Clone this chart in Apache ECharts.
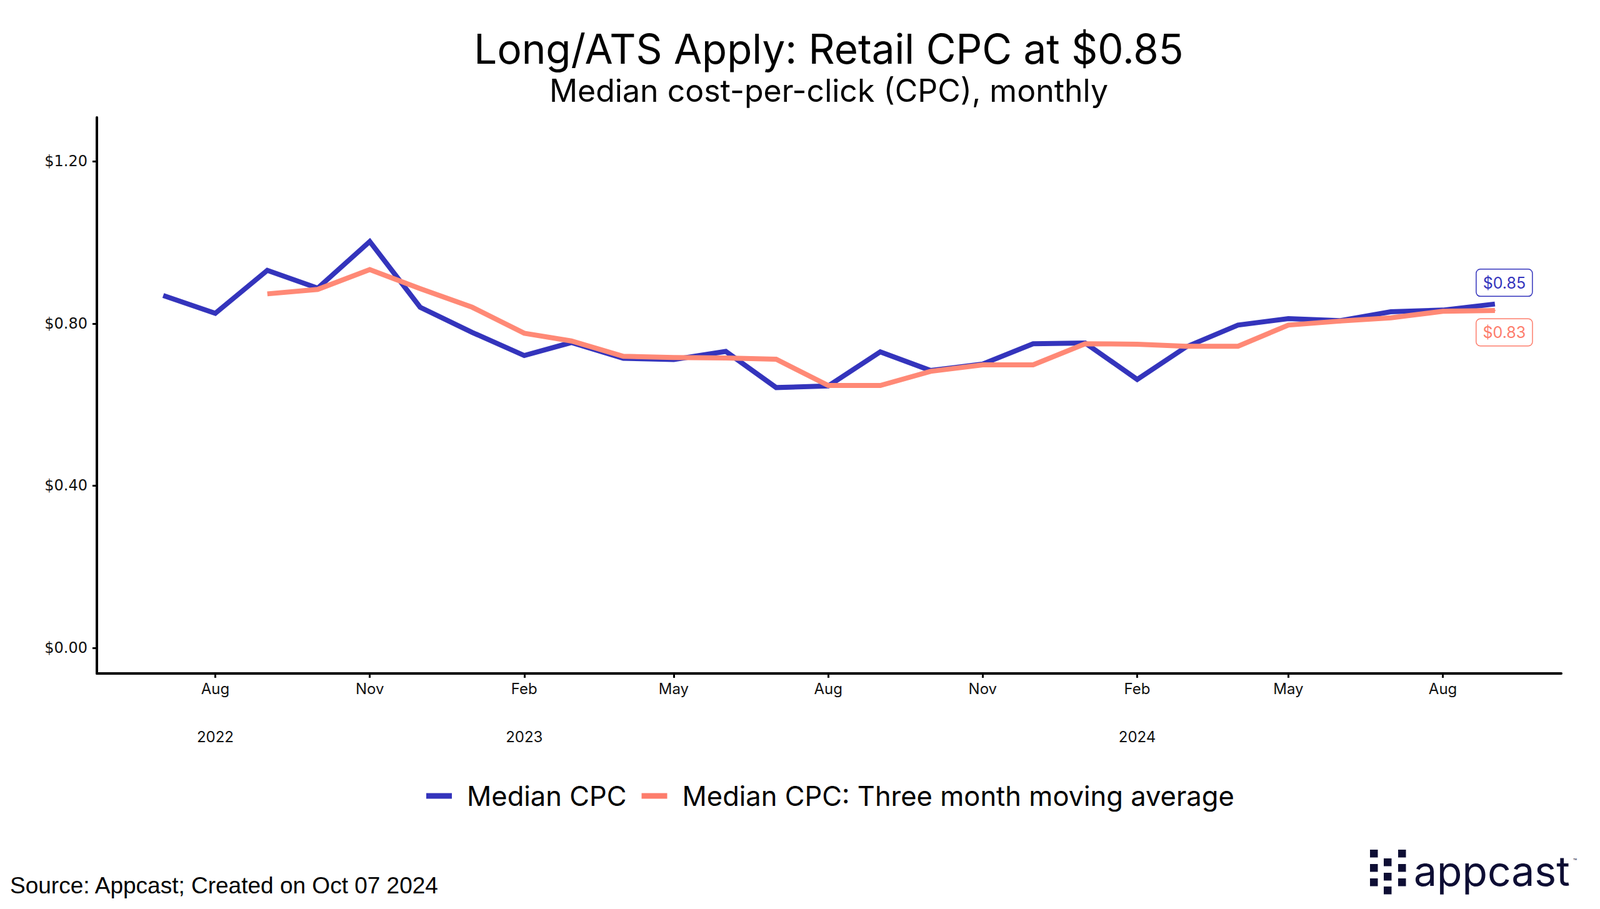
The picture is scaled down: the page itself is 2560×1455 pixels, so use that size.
<!DOCTYPE html>
<html>
<head>
<meta charset="utf-8">
<script src="https://cdn.jsdelivr.net/npm/echarts@6/dist/echarts.min.js"></script>
<style>
html,body{margin:0;padding:0;background:#fff;}
#chart{width:2560px;height:1455px;}
</style>
</head>
<body>
<div id="chart"></div>
<script>
// ---- data ----
const months = ['2022-07','2022-08','2022-09','2022-10','2022-11','2022-12',
  '2023-01','2023-02','2023-03','2023-04','2023-05','2023-06','2023-07','2023-08','2023-09','2023-10','2023-11','2023-12',
  '2024-01','2024-02','2024-03','2024-04','2024-05','2024-06','2024-07','2024-08','2024-09'];
const medianCPC = [0.869,0.825,0.931,0.887,1.002,0.840,
  0.778,0.721,0.753,0.714,0.711,0.731,0.642,0.646,0.730,0.684,0.700,0.750,
  0.752,0.662,0.742,0.796,0.812,0.807,0.829,0.833,0.848];
const movingAvg = [null,null,0.873,0.884,0.933,0.886,
  0.840,0.776,0.757,0.719,0.716,0.715,0.712,0.647,0.647,0.682,0.698,0.698,
  0.750,0.749,0.744,0.744,0.796,0.806,0.814,0.830,0.832];
const tickDates = ['2022-08','2022-11','2023-02','2023-05','2023-08','2023-11','2024-02','2024-05','2024-08'];
const tickMonthLabels = ['Aug','Nov','Feb','May','Aug','Nov','Feb','May','Aug'];
const tickYearLabels = ['2022','','2023','','','','2024','',''];
const yTicks = [0, 0.4, 0.8, 1.2];
const seriesNames = ['Median CPC','Median CPC: Three month moving average'];
const endLabels = ['$0.85','$0.83'];

const BLUE = '#3434bc', RED = '#fd7d6c', NAVY = '#0e0e34';
const FONT = 'Inter';

const DAY = 86400e3;
function ts(s, d){ const p = s.split('-'); return Date.UTC(+p[0], +p[1]-1, d||1); }
const xMin = ts('2022-05', 22) + DAY/2;
const xMax = ts('2024-10', 10) + DAY/2;
const tickTs = tickDates.map(s => ts(s));

function buildData(vals, labelText, color, pos, dist) {
  const last = vals.length - 1;
  return vals.map((v, i) => {
    const pt = [ts(months[i]), v];
    if (i === last) {
      return { value: pt, label: {
        show: true, formatter: labelText, position: pos, distance: dist, offset: [15, 0],
        color: color, fontFamily: FONT, fontSize: 25, lineHeight: 28,
        backgroundColor: '#fff', borderColor: color, borderWidth: 1.5, borderRadius: 6,
        padding: [7, 10, 7, 10]
      }};
    }
    return pt;
  });
}

const chart = echarts.init(document.getElementById('chart'), null, {renderer: 'svg'});

const logoRects = [];
[[0,0],[0,23],[0,46],[22,14],[22,37],[22,59],[45,0],[45,23],[45,46]].forEach(([dx,dy]) => {
  logoRects.push({type:'rect', shape:{x:2192+dx, y:1360+dy, width:12.5, height:12.5}, style:{fill:NAVY}});
});

chart.setOption({
  animation: false,
  backgroundColor: '#fff',
  color: [BLUE, RED],
  grid: { left: 155, right: 62, top: 188, bottom: 377, containLabel: false },
  xAxis: {
    type: 'value', min: xMin, max: xMax, scale: true,
    axisLine: { show: true, onZero: false, lineStyle: { color: '#000', width: 4 } },
    axisTick: { show: true, customValues: tickTs, length: 7, lineStyle: { color: '#000', width: 3 } },
    axisLabel: {
      customValues: tickTs, margin: 5, color: '#111', fontFamily: FONT, fontSize: 24, lineHeight: 38.5,
      formatter: function (v) {
        const i = tickTs.indexOf(v);
        if (i < 0) return '';
        return tickYearLabels[i] ? tickMonthLabels[i] + '\n\n' + tickYearLabels[i] : tickMonthLabels[i];
      }
    },
    splitLine: { show: false }
  },
  yAxis: {
    type: 'value', min: -0.063, max: 1.308,
    axisLine: { show: true, onZero: false, lineStyle: { color: '#000', width: 4 } },
    axisTick: { show: true, customValues: yTicks, length: 7, lineStyle: { color: '#000', width: 3 } },
    axisLabel: {
      customValues: yTicks, margin: 15, color: '#111', fontFamily: 'DejaVu Sans', fontSize: 24,
      formatter: v => '$' + v.toFixed(2)
    },
    splitLine: { show: false }
  },
  legend: {
    left: 677, top: 1247, icon: 'rect', itemWidth: 41, itemHeight: 9, itemGap: 24,
    textStyle: { fontFamily: FONT, fontSize: 43.5, color: '#000', padding: [0, 0, 0, 19] },
    data: seriesNames
  },
  graphic: [
    { type: 'text', x: 1326, y: 78, style: { text: 'Long/ATS Apply: Retail CPC at $0.85', fontFamily: FONT, fontSize: 65.5, fill: '#000', textAlign: 'center', textVerticalAlign: 'middle' } },
    { type: 'text', x: 1326, y: 145, style: { text: 'Median cost-per-click (CPC), monthly', fontFamily: FONT, fontSize: 50, fill: '#000', textAlign: 'center', textVerticalAlign: 'middle' } },
    { type: 'text', x: 16, y: 1417, style: { text: 'Source: Appcast; Created on Oct 07 2024', fontFamily: 'Liberation Sans', fontSize: 37, fill: '#000', textAlign: 'left', textVerticalAlign: 'middle' } },
    { type: 'group', children: logoRects.concat([
      { type: 'text', x: 2262, y: 1394, style: { text: 'appcast', fontFamily: FONT, fontSize: 66, fill: NAVY, textAlign: 'left', textVerticalAlign: 'middle' } },
      { type: 'text', x: 2517, y: 1378, style: { text: '™', fontFamily: FONT, fontSize: 10, fill: NAVY, textAlign: 'left', textVerticalAlign: 'middle' } }
    ]) }
  ],
  series: [
    { name: seriesNames[0], type: 'line', data: buildData(medianCPC, endLabels[0], BLUE, 'top', 13),
      symbol: 'circle', symbolSize: 0, showSymbol: true, lineStyle: { width: 8, color: BLUE, cap: 'butt', join: 'miter' },
      itemStyle: { color: BLUE }, z: 2 },
    { name: seriesNames[1], type: 'line', data: buildData(movingAvg, endLabels[1], RED, 'bottom', 13),
      symbol: 'circle', symbolSize: 0, showSymbol: true, lineStyle: { width: 8, color: RED, cap: 'butt', join: 'miter' },
      itemStyle: { color: RED }, z: 3 }
  ]
});
</script>
</body>
</html>
